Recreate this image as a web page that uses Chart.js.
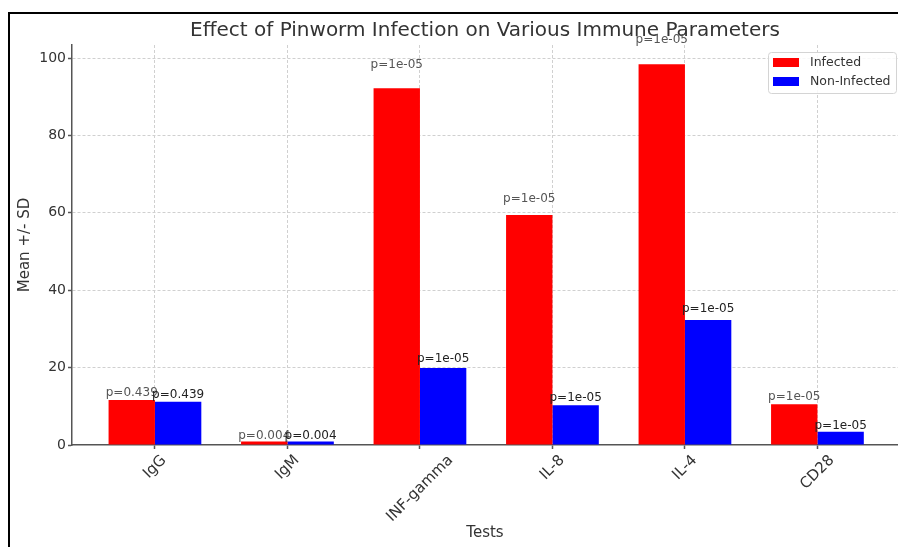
<!DOCTYPE html>
<html>
<head>
<meta charset="utf-8">
<script src="https://cdn.jsdelivr.net/npm/chart.js@4.4.0/dist/chart.umd.min.js"></script>
<style>
html,body{margin:0;padding:0;background:#fff;}
#wrap{width:898px;height:547px;position:relative;}
</style>
</head>
<body>
<div id="wrap"><canvas id="c" width="898" height="547"></canvas></div>
<script>
const categories = ['IgG', 'IgM', 'INF-gamma', 'IL-8', 'IL-4', 'CD28'];
const infected = [11.6, 0.9, 92.2, 59.4, 98.4, 10.5];
const nonInfected = [11.2, 0.9, 19.9, 10.3, 32.3, 3.4];
const pValues = ['0.439', '0.004', '1e-05', '1e-05', '1e-05', '1e-05'];
const yTicks = [0, 20, 40, 60, 80, 100];
const titleText = 'Effect of Pinworm Infection on Various Immune Parameters';
const xTitle = 'Tests';
const yTitle = 'Mean +/- SD';
const seriesNames = ['Infected', 'Non-Infected'];
const seriesColors = ['#ff0000', '#0000ff'];
const labelColors = ['#555555', '#222222'];

const FONT = 'DejaVu Sans, Verdana, sans-serif';

const decor = {
  id: 'decor',
  afterDraw(chart) {
    const ctx = chart.ctx;
    const ca = chart.chartArea;
    const xs = chart.scales.x, ys = chart.scales.y;
    ctx.save();
    // title
    ctx.fillStyle = '#333';
    ctx.font = '20px ' + FONT;
    ctx.textAlign = 'center';
    ctx.textBaseline = 'middle';
    ctx.fillText(titleText, (ca.left + ca.right) / 2, 31);
    // x title
    ctx.font = '15px ' + FONT;
    ctx.fillText(xTitle, (ca.left + ca.right) / 2, 533);
    // y title
    ctx.save();
    ctx.translate(25, (ca.top + ca.bottom) / 2);
    ctx.rotate(-Math.PI / 2);
    ctx.fillText(yTitle, 0, 0);
    ctx.restore();
    // x tick labels rotated 45
    ctx.font = '15px ' + FONT;
    ctx.fillStyle = '#333';
    categories.forEach((c, i) => {
      const x = xs.getPixelForValue(i);
      const L = ctx.measureText(c).width;
      const H = (L + 14) * Math.SQRT1_2;
      const yTop = ca.bottom + 8;
      ctx.save();
      ctx.translate(x, yTop + H / 2);
      ctx.rotate(-Math.PI / 4);
      ctx.textAlign = 'center';
      ctx.textBaseline = 'middle';
      ctx.fillText(c, 0, 0);
      ctx.restore();
    });
    // p-value labels
    ctx.font = '12px ' + FONT;
    ctx.textAlign = 'center';
    ctx.textBaseline = 'bottom';
    chart.data.datasets.forEach((ds, di) => {
      const meta = chart.getDatasetMeta(di);
      meta.data.forEach((bar, i) => {
        const v = ds.data[i].y;
        ctx.fillStyle = labelColors[di];
        ctx.fillText('p=' + pValues[i], bar.x, ys.getPixelForValue(v * 1.05) + 1);
      });
    });
    // legend
    const lx = 768, ly = 52, lw = 128, lh = 41;
    ctx.beginPath();
    ctx.roundRect(lx + 0.5, ly + 0.5, lw, lh, 3);
    ctx.fillStyle = 'rgba(255,255,255,0.85)';
    ctx.fill();
    ctx.strokeStyle = '#d4d4d4';
    ctx.lineWidth = 1;
    ctx.stroke();
    ctx.font = '12.5px ' + FONT;
    ctx.textAlign = 'left';
    ctx.textBaseline = 'middle';
    seriesNames.forEach((n, k) => {
      const cy = 62.5 + k * 19;
      ctx.fillStyle = seriesColors[k];
      ctx.fillRect(773, cy - 4.5, 26, 9);
      ctx.fillStyle = '#333';
      ctx.fillText(n, 810, cy + 0.5);
    });
    // outer frame
    ctx.strokeStyle = '#000';
    ctx.lineWidth = 2;
    ctx.beginPath();
    ctx.moveTo(9, 547);
    ctx.lineTo(9, 13);
    ctx.lineTo(898, 13);
    ctx.stroke();
    ctx.restore();
  }
};

new Chart(document.getElementById('c'), {
  type: 'bar',
  data: {
    datasets: [
      { label: seriesNames[0], data: infected.map((v, i) => ({ x: i, y: v })), backgroundColor: seriesColors[0], borderWidth: 0 },
      { label: seriesNames[1], data: nonInfected.map((v, i) => ({ x: i, y: v })), backgroundColor: seriesColors[1], borderWidth: 0 }
    ]
  },
  options: {
    responsive: false,
    animation: false,
    devicePixelRatio: 1,
    layout: { padding: { top: 45, left: 0, right: 0, bottom: 0 } },
    categoryPercentage: 0.7,
    barPercentage: 1.0,
    plugins: { legend: { display: false }, title: { display: false }, tooltip: { enabled: false } },
    scales: {
      x: {
        type: 'linear',
        offset: false,
        min: -0.626,
        max: 5.608,
        afterBuildTicks: s => { s.ticks = categories.map((c, i) => ({ value: i })); },
        afterFit: s => { s.height = 102; },
        ticks: { display: false },
        grid: { offset: false, color: '#d0d0d0', lineWidth: 1, drawTicks: true, tickLength: 4, tickColor: '#555', tickWidth: 1.5 },
        border: { display: true, color: '#555', width: 1.5, dash: [3, 2] }
      },
      y: {
        type: 'linear',
        min: 0,
        max: 103.36,
        afterBuildTicks: s => { s.ticks = yTicks.map(v => ({ value: v })); },
        afterFit: s => { s.width = 72; },
        ticks: { color: '#333', font: { family: FONT, size: 14 }, padding: 2 },
        grid: { color: c => c.tick && c.tick.value === 0 ? 'rgba(0,0,0,0)' : '#d0d0d0', lineWidth: 1, drawTicks: true, tickLength: 4, tickColor: '#555', tickWidth: 1.5 },
        border: { display: true, color: '#555', width: 1.5, dash: [3, 2] }
      }
    }
  },
  plugins: [decor]
});
</script>
</body>
</html>
